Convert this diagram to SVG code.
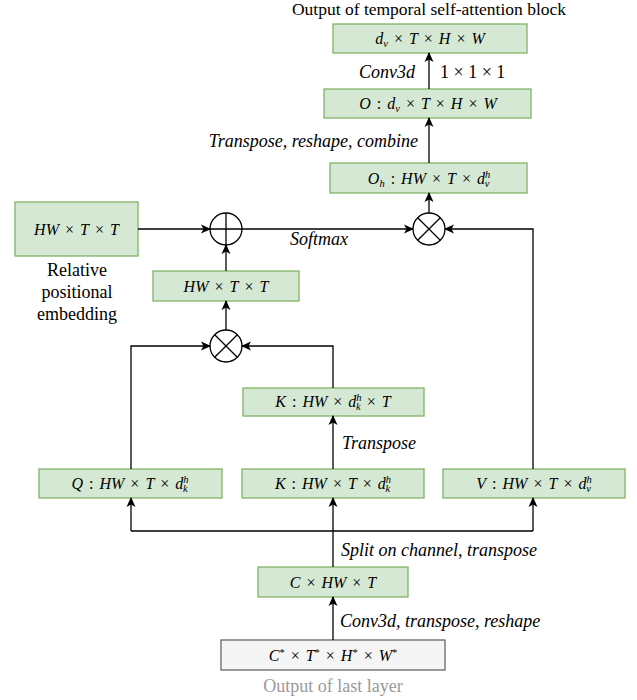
<svg xmlns="http://www.w3.org/2000/svg" width="637" height="700" viewBox="0 0 637 700" font-family="'Liberation Serif', 'DejaVu Serif', serif">
<style>
.g{fill:#d5e8d4;stroke:#82b366;stroke-width:1.3}
.gr{fill:#f5f5f5;stroke:#666666;stroke-width:1.3}
text{font-family:'Liberation Serif','DejaVu Serif',serif}
.m{font-size:16px;font-style:italic;text-anchor:middle;fill:#000;word-spacing:2px}
.m .n{font-style:normal}
.s{font-size:10.5px}
.l{font-size:18px;font-style:italic;fill:#000}
.t{font-size:18px;fill:#000}
.c{fill:#fff;stroke:#000;stroke-width:1.3}
.e line,.e polyline{fill:none;stroke:#000;stroke-width:1.3}
</style>
<defs>
<marker id="a" viewBox="0 0 10 10" refX="9" refY="5" markerWidth="10" markerHeight="10" markerUnits="userSpaceOnUse" orient="auto">
<path d="M0,0.5 L10,5 L0,9.5 L2.5,5 z" fill="#000"/>
</marker>
</defs>

<text x="429" y="15" text-anchor="middle" style="font-size:17.5px;fill:#000">Output of temporal self-attention block</text>

<g id="out">
<rect class="g" x="333" y="24" width="194" height="29"/>
<text class="m" x="430" y="44">d<tspan class="s" dy="3">v</tspan><tspan class="n" dy="-3"> × </tspan>T<tspan class="n"> × </tspan>H<tspan class="n"> × </tspan>W</text>
</g>
<g id="O">
<rect class="g" x="324" y="89" width="207" height="29"/>
<text class="m" x="428" y="109">O<tspan class="n"> : </tspan>d<tspan class="s" dy="3">v</tspan><tspan class="n" dy="-3"> × </tspan>T<tspan class="n"> × </tspan>H<tspan class="n"> × </tspan>W</text>
</g>
<g id="Oh">
<rect class="g" x="330" y="163" width="197" height="30"/>
<text class="m" x="429" y="184">O<tspan class="s" dy="3">h</tspan><tspan class="n" dy="-3"> : </tspan>HW<tspan class="n"> × </tspan>T<tspan class="n"> × </tspan>d<tspan class="s" dy="-6">h</tspan><tspan class="s" dx="-5.5" dy="9">v</tspan></text>
</g>
<g id="mul1">
<circle class="c" cx="429" cy="229" r="16"/>
<path d="M417.7,217.7 L440.3,240.3 M440.3,217.7 L417.7,240.3" stroke="#000" stroke-width="1.3"/>
</g>
<g id="add">
<circle class="c" cx="226" cy="229" r="16"/>
<path d="M210,229 H242 M226,213 V245" stroke="#000" stroke-width="1.3"/>
</g>
<g id="rel">
<rect class="g" x="15" y="202" width="123" height="54"/>
<text class="m" x="76.5" y="235">HW<tspan class="n"> × </tspan>T<tspan class="n"> × </tspan>T</text>
<text class="t" x="77" y="276" text-anchor="middle">Relative</text>
<text class="t" x="77" y="298" text-anchor="middle">positional</text>
<text class="t" x="77" y="320" text-anchor="middle">embedding</text>
</g>
<g id="qk">
<rect class="g" x="153" y="271" width="146" height="30"/>
<text class="m" x="226" y="292">HW<tspan class="n"> × </tspan>T<tspan class="n"> × </tspan>T</text>
</g>
<g id="mul2">
<circle class="c" cx="226" cy="346" r="16"/>
<path d="M214.7,334.7 L237.3,357.3 M237.3,334.7 L214.7,357.3" stroke="#000" stroke-width="1.3"/>
</g>
<g id="KT">
<rect class="g" x="243" y="388" width="181" height="28"/>
<text class="m" x="333" y="407">K<tspan class="n"> : </tspan>HW<tspan class="n"> × </tspan>d<tspan class="s" dy="-6">h</tspan><tspan class="s" dx="-5.5" dy="9">k</tspan><tspan class="n" dy="-3"> × </tspan>T</text>
</g>
<g id="Q">
<rect class="g" x="39" y="469" width="183" height="29"/>
<text class="m" x="130" y="489">Q<tspan class="n"> : </tspan>HW<tspan class="n"> × </tspan>T<tspan class="n"> × </tspan>d<tspan class="s" dy="-6">h</tspan><tspan class="s" dx="-5.5" dy="9">k</tspan></text>
</g>
<g id="K">
<rect class="g" x="242" y="469" width="182" height="29"/>
<text class="m" x="333" y="489">K<tspan class="n"> : </tspan>HW<tspan class="n"> × </tspan>T<tspan class="n"> × </tspan>d<tspan class="s" dy="-6">h</tspan><tspan class="s" dx="-5.5" dy="9">k</tspan></text>
</g>
<g id="V">
<rect class="g" x="443" y="469" width="182" height="29"/>
<text class="m" x="534" y="489">V<tspan class="n"> : </tspan>HW<tspan class="n"> × </tspan>T<tspan class="n"> × </tspan>d<tspan class="s" dy="-6">h</tspan><tspan class="s" dx="-5.5" dy="9">v</tspan></text>
</g>
<g id="C">
<rect class="g" x="258" y="567" width="150" height="30"/>
<text class="m" x="333" y="588">C<tspan class="n"> × </tspan>HW<tspan class="n"> × </tspan>T</text>
</g>
<g id="in">
<rect class="gr" x="221" y="640" width="224" height="30"/>
<text class="m" x="333" y="661">C<tspan class="n s" dy="-5">*</tspan><tspan class="n" dy="5"> × </tspan>T<tspan class="n s" dy="-5">*</tspan><tspan class="n" dy="5"> × </tspan>H<tspan class="n s" dy="-5">*</tspan><tspan class="n" dy="5"> × </tspan>W<tspan class="n s" dy="-5">*</tspan></text>
<text class="t" x="333" y="692" text-anchor="middle" style="fill:#999999">Output of last layer</text>
</g>

<g id="edges" class="e">
<line x1="429" y1="89" x2="429" y2="53" marker-end="url(#a)"/>
<line x1="429" y1="163" x2="429" y2="118" marker-end="url(#a)"/>
<line x1="429" y1="213" x2="429" y2="193" marker-end="url(#a)"/>
<line x1="138" y1="229" x2="210" y2="229" marker-end="url(#a)"/>
<line x1="242" y1="229" x2="413" y2="229" marker-end="url(#a)"/>
<polyline points="533,469 533,229 445,229" marker-end="url(#a)"/>
<line x1="226" y1="271" x2="226" y2="245" marker-end="url(#a)"/>
<line x1="226" y1="330" x2="226" y2="301" marker-end="url(#a)"/>
<polyline points="131,469 131,346 210,346" marker-end="url(#a)"/>
<polyline points="333,388 333,346 242,346" marker-end="url(#a)"/>
<line x1="333" y1="469" x2="333" y2="416" marker-end="url(#a)"/>
<polyline points="131,531 533,531"/>
<line x1="131" y1="531" x2="131" y2="498" marker-end="url(#a)"/>
<line x1="333" y1="531" x2="333" y2="498" marker-end="url(#a)"/>
<line x1="533" y1="531" x2="533" y2="498" marker-end="url(#a)"/>
<line x1="333" y1="567" x2="333" y2="531"/>
<line x1="333" y1="640" x2="333" y2="597" marker-end="url(#a)"/>
</g>

<g id="labels">
<text class="l" x="415" y="78" text-anchor="end">Conv3d</text>
<text class="t" x="440" y="78">1 × 1 × 1</text>
<text class="l" x="418" y="147" text-anchor="end">Transpose, reshape, combine</text>
<text class="l" x="319" y="245" text-anchor="middle">Softmax</text>
<text class="l" x="342" y="449">Transpose</text>
<text class="l" x="341" y="556">Split on channel, transpose</text>
<text class="l" x="340" y="627">Conv3d, transpose, reshape</text>
</g>
</svg>
